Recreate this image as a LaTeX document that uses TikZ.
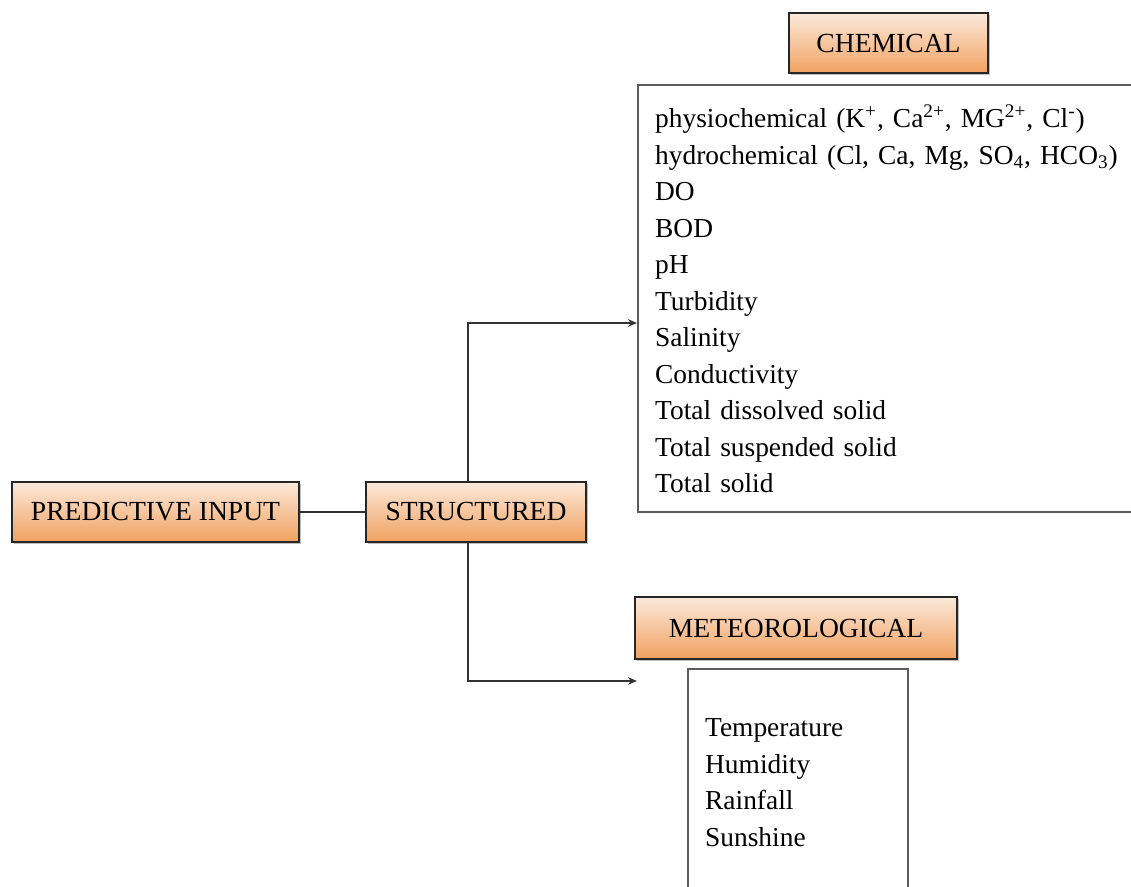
\documentclass[tikz,border=0pt]{standalone}
\usepackage{fontspec}
\setmainfont{Liberation Serif}
\usetikzlibrary{arrows.meta,positioning,shadows}
\definecolor{boxtop}{HTML}{FCE9DA}
\definecolor{boxbot}{HTML}{F0A160}
\definecolor{edgegray}{HTML}{333333}
\definecolor{listgray}{HTML}{5C5C5C}
\tikzset{
  >={Stealth[length=4.5pt,width=3.8pt]},
  % rubriker
  hdr/.style={draw=black!85,line width=1pt,top color=boxtop,bottom color=boxbot,
              inner sep=0pt,font=\fontsize{13.8}{16}\selectfont,
              drop shadow={shadow xshift=0.8pt,shadow yshift=-0.8pt,opacity=0.25,fill=black}},
  % listor
  lst/.style={draw=listgray,line width=1.2pt,inner xsep=8.5pt,inner ysep=0pt,
              align=left,anchor=north west,font=\fontsize{13.7}{18.25}\selectfont},
  conn/.style={draw=edgegray,line width=1pt},
}
\begin{document}
\begin{tikzpicture}[x=0.5pt,y=-0.5pt]
  \path[use as bounding box,fill=white] (0,0) rectangle (1131,887);
  \node[hdr,minimum width=143.5pt,minimum height=30pt] (pred) at (155.5,512) {PREDICTIVE INPUT};
  \node[hdr,minimum width=110pt,minimum height=30pt] (struct) at (476,512) {STRUCTURED};
  \node[hdr,minimum width=99.5pt,minimum height=30pt] (chem) at (888.5,43.5) {CHEMICAL};
  \node[hdr,minimum width=161pt,minimum height=31pt] (meteo) at (796,628) {METEOROLOGICAL};
  \node[lst,text width=260pt,minimum height=213.5pt] (chemlist) at (637,84) {%
    physiochemical (K\textsuperscript{+}, Ca\textsuperscript{2+}, MG\textsuperscript{2+}, Cl\textsuperscript{-})\\
    hydrochemical (Cl, Ca, Mg, SO\textsubscript{4}, HCO\textsubscript{3})\\
    DO\\ BOD\\ pH\\ Turbidity\\ Salinity\\ Conductivity\\
    Total dissolved solid\\ Total suspended solid\\ Total solid};
  \node[lst,text width=93pt,minimum height=113.5pt] (meteolist) at (687,668) {%
    Temperature\\ Humidity\\ Rainfall\\ Sunshine};
  \coordinate (chemin) at (637,323);
  \coordinate (metin) at (637,681);
  \draw[conn] (pred) -- (struct);
  \draw[conn,->] ([xshift=-4pt]struct.north) |- (chemin);
  \draw[conn,->] ([xshift=-4pt]struct.south) |- (metin);
\end{tikzpicture}
\end{document}
